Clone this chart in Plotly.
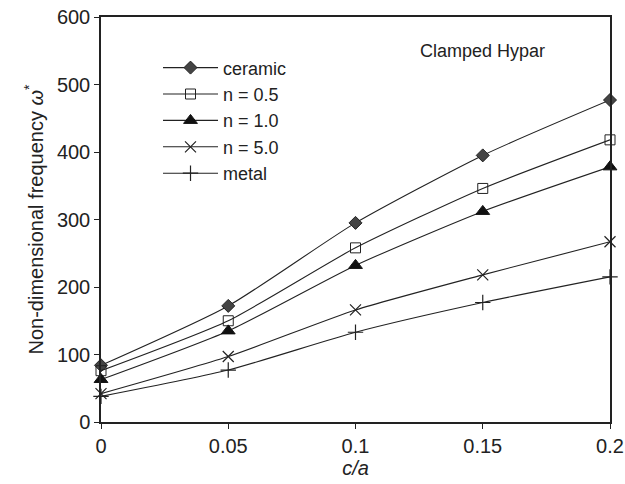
import plotly.graph_objects as go

c_a = [0, 0.05, 0.1, 0.15, 0.2]
ceramic = [84, 172, 295, 395, 477]
n05 = [76, 150, 258, 346, 418]
n10 = [63, 135, 232, 312, 378]
n50 = [42, 97, 166, 218, 267]
metal = [38, 77, 133, 177, 215]

series = [
    ("ceramic", ceramic, dict(symbol="diamond", size=10, color="#444444", line=dict(color="#222222", width=1))),
    ("n = 0.5", n05, dict(symbol="square-open", size=10, color="#222222", line=dict(width=1))),
    ("n = 1.0", n10, dict(symbol="triangle-up", size=12, color="#111111", line=dict(color="#111111", width=1))),
    ("n = 5.0", n50, dict(symbol="x-thin-open", size=11, color="#222222", line=dict(color="#222222", width=1.2))),
    ("metal", metal, dict(symbol="cross-thin-open", size=11, color="#222222", line=dict(color="#222222", width=1.2))),
]

fig = go.Figure()
for name, vals, mk in series:
    fig.add_trace(go.Scatter(
        x=c_a, y=vals, name=name, mode="lines+markers",
        line=dict(color="#222222", width=1.1, shape="spline", smoothing=0.6),
        marker=mk, cliponaxis=False,
    ))

axis_common = dict(
    showline=True, linecolor="#222222", linewidth=1.5, mirror=True,
    ticks="outside", ticklen=5, tickcolor="#222222", tickwidth=1,
    showgrid=False, zeroline=False, automargin=False,
    tickfont=dict(family="Liberation Sans, Arial", size=20, color="#222222"),
)

fig.update_layout(
    width=625, height=484,
    margin=dict(l=101, r=15, t=17, b=62),
    paper_bgcolor="white", plot_bgcolor="white",
    font=dict(family="Liberation Sans, Arial", size=18, color="#222222"),
    xaxis=dict(range=[0, 0.2], tickvals=[0, 0.05, 0.1, 0.15, 0.2],
               ticktext=["0", "0.05", "0.1", "0.15", "0.2"],
               ticklabeloverflow="allow",
               title=dict(text="<i>c/a</i>", font=dict(size=20), standoff=2),
               **axis_common),
    yaxis=dict(range=[0, 600], tickvals=[0, 100, 200, 300, 400, 500, 600],
               title=dict(text="Non-dimensional frequency <i>ω</i><sup>*</sup>", font=dict(size=20), standoff=8),
               **axis_common),
    legend=dict(x=0.112, y=0.92, xanchor="left", yanchor="top",
                bgcolor="rgba(0,0,0,0)", font=dict(size=18),
                tracegroupgap=0, itemwidth=55),
    annotations=[dict(x=0.150, y=550, xref="x", yref="y", text="Clamped Hypar",
                      showarrow=False, font=dict(size=18, color="#222222"))],
)

fig.write_html("out.html")
